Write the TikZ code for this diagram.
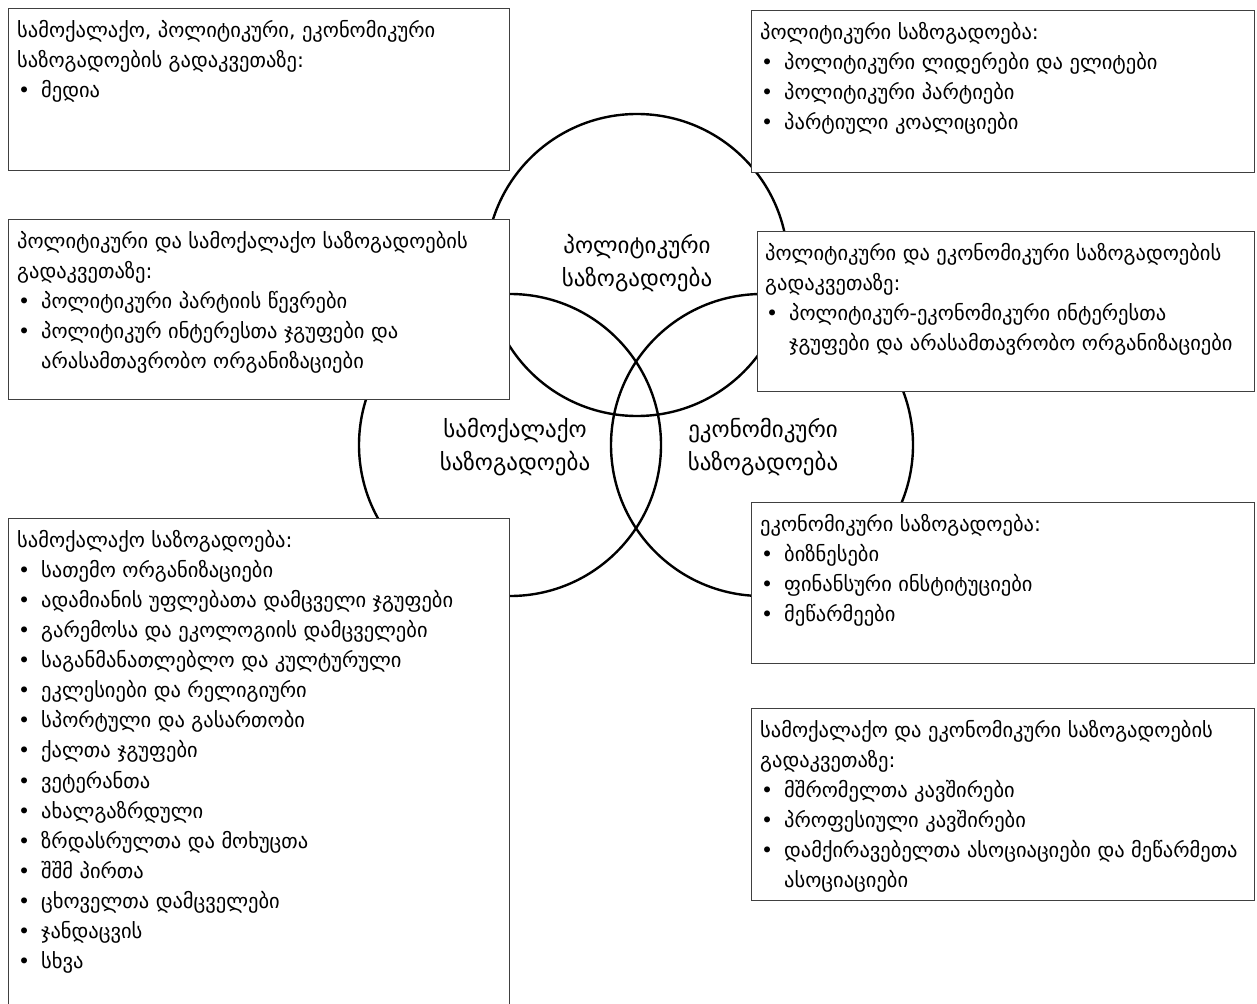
\documentclass[tikz,border=0pt]{standalone}
\usepackage{fontspec}
\setmainfont{DejaVu Sans}
\newcommand{\bl}{\makebox[24pt][l]{\hspace{1pt}•}}
\newcommand{\hang}{\hspace*{24pt}}
\newcommand{\fsz}{\fontsize{20.5}{30.1}\selectfont}
\begin{document}
\begin{tikzpicture}[x=1pt,y=-1pt,
  boxs/.style={draw=black!75, line width=1pt, fill=white, rectangle, inner sep=0pt, anchor=north west},
  txt/.style={anchor=north west, align=left, inner sep=0pt, font=\fsz},
  ring/.style={circle, draw=black, line width=2.4pt, inner sep=0pt, minimum size=302pt},
  lbl/.style={align=center, inner sep=0pt, font=\fontsize{23}{33}\selectfont}]
\clip (0,0) rectangle (1257,1003);
\fill[white] (0,0) rectangle (1257,1003);
% circles
\node[ring] (pol) at (637,265) {};
\node[ring] (civ) at (510,445) {};
\node[ring] (eco) at (762,445) {};
\node[lbl] (lpol) at (637,263) {პოლიტიკური\\საზოგადოება};
\node[lbl] (lciv) at (515,447) {სამოქალაქო\\საზოგადოება};
\node[lbl] (leco) at (763,447) {ეკონომიკური\\საზოგადოება};
% boxes
\node[boxs, minimum width=501pt, minimum height=162pt] (b1) at (8,8) {};
\node[txt] (t1) at ([xshift=9pt,yshift=-8pt]b1.north west) {\strut სამოქალაქო, პოლიტიკური, ეკონომიკური\\
საზოგადოების გადაკვეთაზე:\\
\bl მედია};
\node[boxs, minimum width=503pt, minimum height=162pt] (b2) at (751,10) {};
\node[txt] (t2) at ([xshift=9pt,yshift=-8pt]b2.north west) {\strut პოლიტიკური საზოგადოება:\\
\bl პოლიტიკური ლიდერები და ელიტები\\
\bl პოლიტიკური პარტიები\\
\bl პარტიული კოალიციები};
\node[boxs, minimum width=501pt, minimum height=180pt] (b3) at (8,219) {};
\node[txt] (t3) at ([xshift=9pt,yshift=-8pt]b3.north west) {\strut პოლიტიკური და სამოქალაქო საზოგადოების\\
გადაკვეთაზე:\\
\bl პოლიტიკური პარტიის წევრები\\
\bl პოლიტიკურ ინტერესთა ჯგუფები და\\
\hang არასამთავრობო ორგანიზაციები};
\node[boxs, minimum width=497pt, minimum height=160pt] (b4) at (757,231) {};
\node[txt] (t4) at ([xshift=8pt,yshift=-8pt]b4.north west) {\strut პოლიტიკური და ეკონომიკური საზოგადოების\\
გადაკვეთაზე:\\
\bl პოლიტიკურ-ეკონომიკური ინტერესთა\\
\hang ჯგუფები და არასამთავრობო ორგანიზაციები};
\node[boxs, minimum width=501pt, minimum height=492pt] (b5) at (8,518) {};
\node[txt] (t5) at ([xshift=9pt,yshift=-8pt]b5.north west) {\strut სამოქალაქო საზოგადოება:\\
\bl სათემო ორგანიზაციები\\
\bl ადამიანის უფლებათა დამცველი ჯგუფები\\
\bl გარემოსა და ეკოლოგიის დამცველები\\
\bl საგანმანათლებლო და კულტურული\\
\bl ეკლესიები და რელიგიური\\
\bl სპორტული და გასართობი\\
\bl ქალთა ჯგუფები\\
\bl ვეტერანთა\\
\bl ახალგაზრდული\\
\bl ზრდასრულთა და მოხუცთა\\
\bl შშმ პირთა\\
\bl ცხოველთა დამცველები\\
\bl ჯანდაცვის\\
\bl სხვა};
\node[boxs, minimum width=503pt, minimum height=161pt] (b6) at (751,502) {};
\node[txt] (t6) at ([xshift=9pt,yshift=-8pt]b6.north west) {\strut ეკონომიკური საზოგადოება:\\
\bl ბიზნესები\\
\bl ფინანსური ინსტიტუციები\\
\bl მეწარმეები};
\node[boxs, minimum width=503pt, minimum height=192pt] (b7) at (751,708) {};
\node[txt] (t7) at ([xshift=9pt,yshift=-8pt]b7.north west) {\strut სამოქალაქო და ეკონომიკური საზოგადოების\\
გადაკვეთაზე:\\
\bl მშრომელთა კავშირები\\
\bl პროფესიული კავშირები\\
\bl დამქირავებელთა ასოციაციები და მეწარმეთა\\
\hang ასოციაციები};
\end{tikzpicture}
\end{document}
